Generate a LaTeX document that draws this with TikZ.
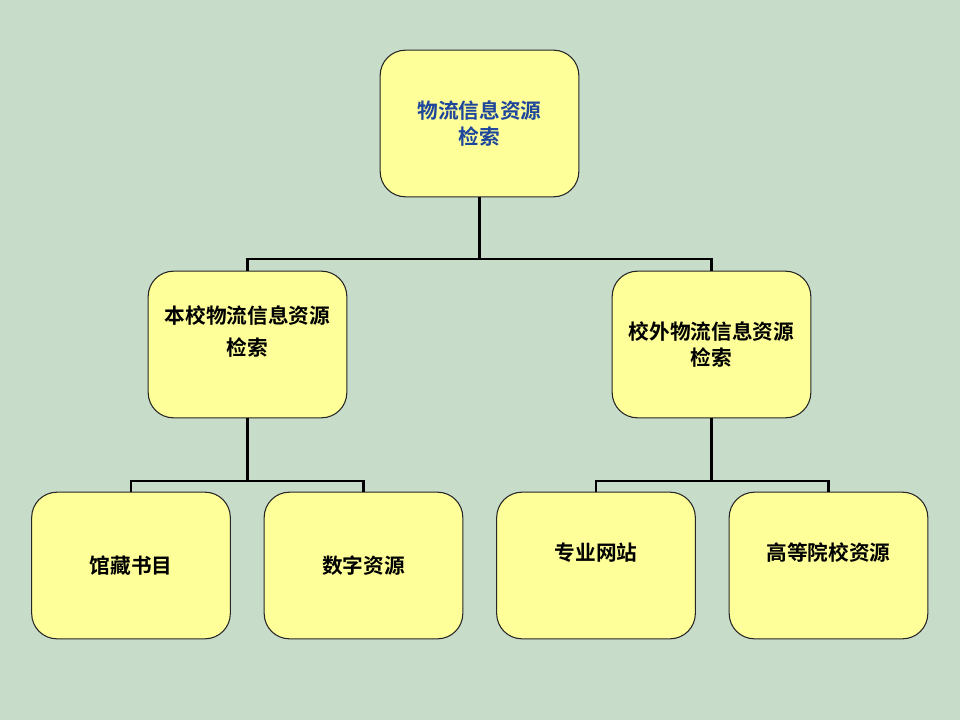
\documentclass[tikz,border=0pt]{standalone}
\usepackage{fontspec}
\newfontfamily\cjk{Noto Sans CJK SC}[BoldFont={Noto Sans CJK SC Bold}]
\definecolor{bgc}{RGB}{200,220,202}
\definecolor{boxc}{RGB}{255,255,153}
\definecolor{titleblue}{RGB}{30,70,155}
\tikzset{
  box/.style={draw=black!85, line width=0.8pt, fill=boxc, rounded corners=19pt,
    minimum width=149pt, minimum height=110pt, inner sep=0pt},
  txt/.style={font=\cjk\bfseries\fontsize{15.5}{19}\selectfont, align=center, inner sep=0pt},
  conn/.style={line width=2.2pt, black}
}
\begin{document}
\begin{tikzpicture}[x=0.75pt,y=-0.75pt]
\fill[bgc] (0,0) rectangle (960,720);
\useasboundingbox (0,0) rectangle (960,720);
% boxes
\node[box] (top) at (479.5,123.5) {};
\node[box] (ml) at (247.5,344.5) {};
\node[box] (mr) at (711.5,344.5) {};
\node[box] (b1) at (131,565.5) {};
\node[box] (b2) at (363.5,565.5) {};
\node[box] (b3) at (596,565.5) {};
\node[box] (b4) at (828.5,565.5) {};
% texts
\node[txt, text=titleblue] (ttop) at (479.5,123.5) {物流信息资源\\检索};
\node[txt] (tml1) at (247.5,316) {本校物流信息资源};
\node[txt] (tml2) at (247.5,348) {检索};
\node[txt] (tmr) at (711.5,344.5) {校外物流信息资源\\检索};
\node[txt] (tb1) at (131,566) {馆藏书目};
\node[txt] (tb2) at (363.5,566) {数字资源};
\node[txt] (tb3) at (596,553) {专业网站};
\node[txt] (tb4) at (828.5,553) {高等院校资源};
% connectors
\coordinate (j1) at (479.5,259);
\draw[conn] (top.south) -- (j1);
\draw[conn] (ml.north) -- (ml.north |- j1) -- (mr.north |- j1) -- (mr.north);
\coordinate (j2) at (247.5,481);
\draw[conn] (ml.south) -- (j2);
\draw[conn] (b1.north) -- (b1.north |- j2) -- (b2.north |- j2) -- (b2.north);
\coordinate (j3) at (711.5,481);
\draw[conn] (mr.south) -- (j3);
\draw[conn] (b3.north) -- (b3.north |- j3) -- (b4.north |- j3) -- (b4.north);
\end{tikzpicture}
\end{document}
